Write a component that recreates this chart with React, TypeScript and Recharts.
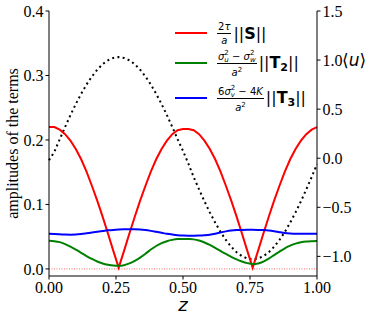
import { LineChart, Line, XAxis, YAxis, ReferenceLine, Legend } from "recharts";

document.body.style.margin = "0";

// position along the period
const zValues = [
  0.0, 0.02, 0.04, 0.06, 0.08, 0.1, 0.12, 0.14, 0.16, 0.18,
  0.2, 0.22, 0.24, 0.26, 0.28, 0.3, 0.32, 0.34, 0.36, 0.38,
  0.4, 0.42, 0.44, 0.46, 0.48, 0.5, 0.52, 0.54, 0.56, 0.58,
  0.6, 0.62, 0.64, 0.66, 0.68, 0.7, 0.72, 0.74, 0.76, 0.78,
  0.8, 0.82, 0.84, 0.86, 0.88, 0.9, 0.92, 0.94, 0.96, 0.98,
  1.0,
];

// (2tau/a) ||S||
const sTerm = [
  0.22, 0.22, 0.216, 0.209, 0.199, 0.186, 0.17, 0.151, 0.129, 0.106,
  0.081, 0.055, 0.028, 0.002, 0.028, 0.055, 0.081, 0.106, 0.129, 0.151,
  0.17, 0.186, 0.199, 0.209, 0.215, 0.217, 0.217, 0.215, 0.209, 0.199,
  0.186, 0.17, 0.151, 0.129, 0.106, 0.081, 0.055, 0.028, 0.002, 0.028,
  0.055, 0.081, 0.106, 0.129, 0.151, 0.17, 0.186, 0.199, 0.209, 0.216,
  0.22,
];

// (su^2 - sw^2)/a^2 ||T2||
const t2Term = [
  0.0435, 0.043, 0.0415, 0.0385, 0.0345, 0.03, 0.025, 0.02, 0.0155, 0.0115,
  0.0085, 0.0065, 0.0052, 0.0048, 0.0058, 0.0085, 0.0125, 0.0175, 0.0235, 0.03,
  0.0355, 0.04, 0.043, 0.045, 0.0462, 0.0465, 0.0463, 0.0458, 0.044, 0.041,
  0.0372, 0.0325, 0.0278, 0.0232, 0.0188, 0.0148, 0.0115, 0.009, 0.0075, 0.0085,
  0.0114, 0.016, 0.0215, 0.0268, 0.032, 0.036, 0.0392, 0.0412, 0.0425, 0.043,
  0.0432,
];

// (6sv^2 - 4K)/a^2 ||T3||
const t3Term = [
  0.0545, 0.0543, 0.0538, 0.0532, 0.053, 0.0532, 0.054, 0.0552, 0.0565, 0.0577,
  0.0588, 0.0598, 0.0605, 0.061, 0.0614, 0.0616, 0.0616, 0.0612, 0.0603, 0.059,
  0.0575, 0.056, 0.0545, 0.0533, 0.0523, 0.0517, 0.0515, 0.0515, 0.0517, 0.0522,
  0.053, 0.0545, 0.0565, 0.0582, 0.0595, 0.0602, 0.0605, 0.0606, 0.0606, 0.0605,
  0.0602, 0.0596, 0.0585, 0.057, 0.0557, 0.055, 0.0546, 0.0545, 0.0545, 0.0545,
  0.0545,
];

// <u> on the right axis
const meanU = [
  -0.02, 0.065, 0.193, 0.318, 0.439, 0.552, 0.656, 0.751, 0.833, 0.902,
  0.958, 0.998, 1.022, 1.03, 1.022, 0.998, 0.958, 0.902, 0.833, 0.751,
  0.656, 0.552, 0.439, 0.318, 0.193, 0.075, -0.055, -0.193, -0.318, -0.439,
  -0.552, -0.656, -0.751, -0.833, -0.902, -0.958, -0.998, -1.022, -1.03, -1.022,
  -0.998, -0.958, -0.902, -0.833, -0.751, -0.656, -0.552, -0.439, -0.318, -0.193,
  -0.06,
];

const xTicks = [0, 0.25, 0.5, 0.75, 1];
const leftTicks = [0, 0.1, 0.2, 0.3, 0.4];
const rightTicks = [-1, -0.5, 0, 0.5, 1, 1.5];

const rows = zValues.map((z, i) => ({
  z,
  s: sTerm[i],
  t2: t2Term[i],
  t3: t3Term[i],
  u: meanU[i],
}));

const serif = "'Liberation Serif', 'DejaVu Serif', serif";
const sans = "'DejaVu Sans', sans-serif";
const tickStyle = { fill: "#000", fontFamily: serif, fontSize: 16 };
const minus = (v: number, d: number) => (v < 0 ? "\u2212" + Math.abs(v).toFixed(d) : v.toFixed(d));

const Frac = ({ num, den }: { num: any; den: any }) => (
  <span style={{ display: "inline-flex", flexDirection: "column", alignItems: "center", fontSize: 10, marginRight: 2 }}>
    <span style={{ height: 13, lineHeight: "14px", padding: "0 1px", borderBottom: "1px solid #000", whiteSpace: "nowrap" }}>{num}</span>
    <span style={{ height: 13, lineHeight: "13px", whiteSpace: "nowrap" }}>{den}</span>
  </span>
);

const Sig = ({ sub }: { sub: string }) => (
  <span>
    <i>σ</i>
    <span style={{ display: "inline-flex", flexDirection: "column", fontSize: 7, lineHeight: "7px", verticalAlign: "middle" }}>
      <span>2</span>
      <i>{sub}</i>
    </span>
  </span>
);

const Sup2 = () => <span style={{ fontSize: 7, verticalAlign: "4px" }}>2</span>;

const Norm = ({ name, sub }: { name: string; sub?: string }) => (
  <span style={{ fontSize: 16, whiteSpace: "nowrap" }}>
    ||<b>{name}</b>
    {sub && <b style={{ fontSize: 11, verticalAlign: "-3px" }}>{sub}</b>}||
  </span>
);

const legendItems = [
  { color: "#ff0000", h: 30, label: <><Frac num={<>2<i>τ</i></>} den={<i>a</i>} /><Norm name="S" /></> },
  {
    color: "#008000",
    h: 30,
    label: <><Frac num={<><Sig sub="u" /> − <Sig sub="w" /></>} den={<><i>a</i><Sup2 /></>} /><Norm name="T" sub="2" /></>,
  },
  {
    color: "#0000ff",
    h: 40,
    label: <><Frac num={<>6<Sig sub="v" /> − 4<i>K</i></>} den={<><i>a</i><Sup2 /></>} /><Norm name="T" sub="3" /></>,
  },
];

const renderLegend = () => (
  <div style={{ fontFamily: sans, color: "#000" }}>
    {legendItems.map((item, i) => (
      <div key={i} style={{ display: "flex", alignItems: "center", height: item.h }}>
        <svg width={42} height={4} style={{ flex: "none" }}>
          <line x1={0} y1={2} x2={32} y2={2} stroke={item.color} strokeWidth={2} />
        </svg>
        {item.label}
      </div>
    ))}
  </div>
);

const LeftTitle = ({ viewBox }: any) => {
  const cx = (viewBox?.x ?? 0) + 18;
  const cy = (viewBox?.y ?? 11) + (viewBox?.height ?? 265) / 2;
  return (
    <text x={cx} y={cy} transform={`rotate(-90 ${cx} ${cy})`} textAnchor="middle" fontFamily={serif} fontSize={16} fill="#000">
      amplitudes of the terms
    </text>
  );
};

const RightTitle = ({ viewBox }: any) => {
  const x = (viewBox?.x ?? 317) + 25;
  return (
    <text x={x} y={66} fontFamily={sans} fontSize={17} fill="#000">
      ⟨<tspan fontStyle="italic">u</tspan>⟩
    </text>
  );
};

const BottomTitle = ({ viewBox }: any) => {
  const cx = (viewBox?.x ?? 49) + (viewBox?.width ?? 268) / 2;
  return (
    <text x={cx} y={311} textAnchor="middle" fontFamily={sans} fontStyle="italic" fontSize={18} fill="#000">
      z
    </text>
  );
};

export default function App() {
  return (
    <LineChart width={374} height={320} data={rows} margin={{ top: 11, right: 0, bottom: 14, left: 0 }}>
      <XAxis
        dataKey="z"
        type="number"
        domain={[0, 1]}
        ticks={xTicks}
        tickFormatter={(v: number) => v.toFixed(2)}
        tick={tickStyle}
        tickSize={3.5}
        height={30}
        axisLine={{ stroke: "#000" }}
        tickLine={{ stroke: "#000" }}
        label={<BottomTitle />}
      />
      <XAxis
        xAxisId="top"
        orientation="top"
        dataKey="z"
        type="number"
        domain={[0, 1]}
        tick={false}
        tickLine={false}
        height={0}
        axisLine={{ stroke: "#000" }}
      />
      <YAxis
        yAxisId="left"
        type="number"
        domain={[-0.011, 0.4]}
        ticks={leftTicks}
        allowDataOverflow
        tickFormatter={(v: number) => v.toFixed(1)}
        tick={tickStyle}
        tickSize={3.5}
        width={49}
        axisLine={{ stroke: "#000" }}
        tickLine={{ stroke: "#000" }}
        label={<LeftTitle />}
      />
      <YAxis
        yAxisId="right"
        orientation="right"
        type="number"
        domain={[-1.2, 1.5]}
        ticks={rightTicks}
        allowDataOverflow
        tickFormatter={(v: number) => minus(v, 1)}
        tick={tickStyle}
        tickSize={3.5}
        width={57}
        axisLine={{ stroke: "#000" }}
        tickLine={{ stroke: "#000" }}
        label={<RightTitle />}
      />
      <ReferenceLine yAxisId="left" y={0} stroke="#ff0000" strokeOpacity={0.6} strokeDasharray="1 1.5" />
      <Line yAxisId="right" dataKey="u" type="linear" stroke="#000" strokeWidth={2} strokeDasharray="2 3.3" dot={false} isAnimationActive={false} />
      <Line yAxisId="left" dataKey="s" type="linear" stroke="#ff0000" strokeWidth={2} dot={false} isAnimationActive={false} />
      <Line yAxisId="left" dataKey="t2" type="monotone" stroke="#008000" strokeWidth={2} dot={false} isAnimationActive={false} />
      <Line yAxisId="left" dataKey="t3" type="monotone" stroke="#0000ff" strokeWidth={2} dot={false} isAnimationActive={false} />
      <Legend
        layout="vertical"
        align="center"
        verticalAlign="middle"
        content={renderLegend}
        wrapperStyle={{ left: 175, top: 18, width: 150, height: 120 }}
      />
    </LineChart>
  );
}
